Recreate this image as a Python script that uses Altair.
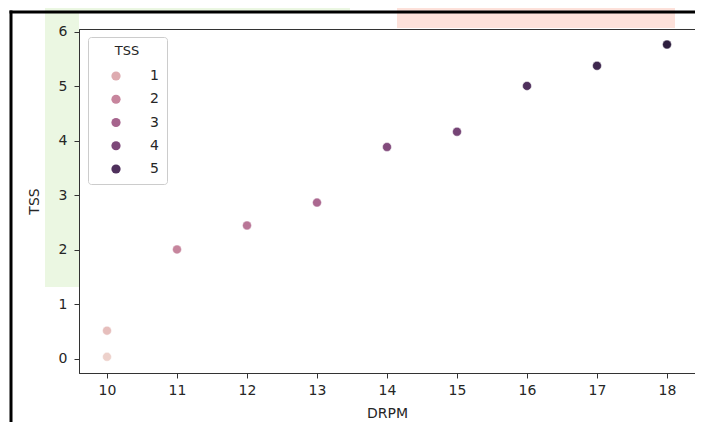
import math
import altair as alt
import pandas as pd

# ---- data ----
DRPM = [10, 10, 11, 12, 13, 14, 15, 16, 17, 18]
TSS = [0.04, 0.52, 2.01, 2.45, 2.87, 3.89, 4.17, 5.01, 5.38, 5.77]
X_TICKS = [10, 11, 12, 13, 14, 15, 16, 17, 18]
Y_TICKS = [0, 1, 2, 3, 4, 5, 6]
LEGEND_VALUES = [1, 2, 3, 4, 5]

df = pd.DataFrame({"DRPM": DRPM, "TSS": TSS})


# seaborn default sequential palette (cubehelix, start=0, rot=.4, light=.85, dark=.15)
def cubehelix(x, start=0.0, rot=0.4, gamma=1.0, hue=0.8):
    xg = x ** gamma
    a = hue * xg * (1 - xg) / 2
    phi = 2 * math.pi * (start / 3 + rot * x)
    c, s = math.cos(phi), math.sin(phi)
    r = xg + a * (-0.14861 * c + 1.78277 * s)
    g = xg + a * (-0.29227 * c - 0.90649 * s)
    b = xg + a * (1.97294 * c)
    clip = lambda v: max(0.0, min(1.0, v))
    return "#{:02x}{:02x}{:02x}".format(*(int(round(clip(v) * 255)) for v in (r, g, b)))


vmin, vmax = min(TSS), max(TSS)
N = 12
stops_dom = [vmin + (vmax - vmin) * k / N for k in range(N + 1)]
stops_col = [cubehelix(0.85 - 0.70 * k / N) for k in range(N + 1)]

FONT = "DejaVu Sans"

points = alt.Chart(df).mark_circle(size=80, opacity=1, stroke="white", strokeWidth=0.5).encode(
    x=alt.X(
        "DRPM:Q",
        scale=alt.Scale(domain=[9.6, 18.4], nice=False, zero=False),
        axis=alt.Axis(values=X_TICKS, title="DRPM", grid=False, tickSize=5,
                      labelPadding=5, titlePadding=9, format="d", zindex=1),
    ),
    y=alt.Y(
        "TSS:Q",
        scale=alt.Scale(domain=[-0.257, 6.055], nice=False, zero=False),
        axis=alt.Axis(values=Y_TICKS, title="TSS", grid=False, tickSize=5,
                      labelPadding=7, titlePadding=17, format="d", zindex=1),
    ),
    color=alt.Color(
        "TSS:Q",
        scale=alt.Scale(domain=stops_dom, range=stops_col, interpolate="rgb"),
        legend=alt.Legend(
            type="symbol", values=LEGEND_VALUES, title="TSS", orient="none",
            legendX=9, legendY=8, fillColor="white", strokeColor="#cccccc",
            cornerRadius=3, padding=8, symbolOffset=13, labelOffset=27,
            rowPadding=9.25, symbolType="circle", symbolSize=85, titleAnchor="middle",
            titlePadding=11, titleFontWeight="normal", titleFontSize=13,
            labelFontSize=14, symbolStrokeWidth=0, format="d",
        ),
    ),
)

deco = alt.Chart(pd.DataFrame({"a": [0]}))
green_top = deco.mark_rect(color="#ebf7e2").encode(
    x=alt.value(-34), x2=alt.value(271), y=alt.value(-21), y2=alt.value(-18)
)
green_left = deco.mark_rect(color="#ebf7e2").encode(
    x=alt.value(-34), x2=alt.value(0), y=alt.value(-16), y2=alt.value(258)
)
pink_top = deco.mark_rect(color="#fde1da").encode(
    x=alt.value(318), x2=alt.value(596), y=alt.value(-21), y2=alt.value(-1)
)
top_line = deco.mark_rule(color="black", strokeWidth=3).encode(
    x=alt.value(-69.5), x2=alt.value(620), y=alt.value(-17)
)
left_line = deco.mark_rule(color="black", strokeWidth=3).encode(
    x=alt.value(-68), y=alt.value(-18.5), y2=alt.value(402)
)

chart = alt.layer(green_top, green_left, pink_top, points, top_line, left_line).properties(
    width=616, height=344,
    padding={"left": 71, "top": 21, "right": 0, "bottom": 49},
    autosize=alt.AutoSizeParams(type="none"),
    background="white",
).configure_view(
    stroke="#333333", strokeWidth=1
).configure_axis(
    domainColor="#333333", tickColor="#333333", labelColor="#262626",
    titleColor="#262626", labelFont=FONT, titleFont=FONT, labelFontSize=14,
    titleFontSize=14, titleFontWeight="normal", domainWidth=1,
).configure_legend(
    labelFont=FONT, titleFont=FONT, labelColor="#262626", titleColor="#262626",
)

chart.save("out.html", embed_options={"renderer": "svg", "actions": False})
